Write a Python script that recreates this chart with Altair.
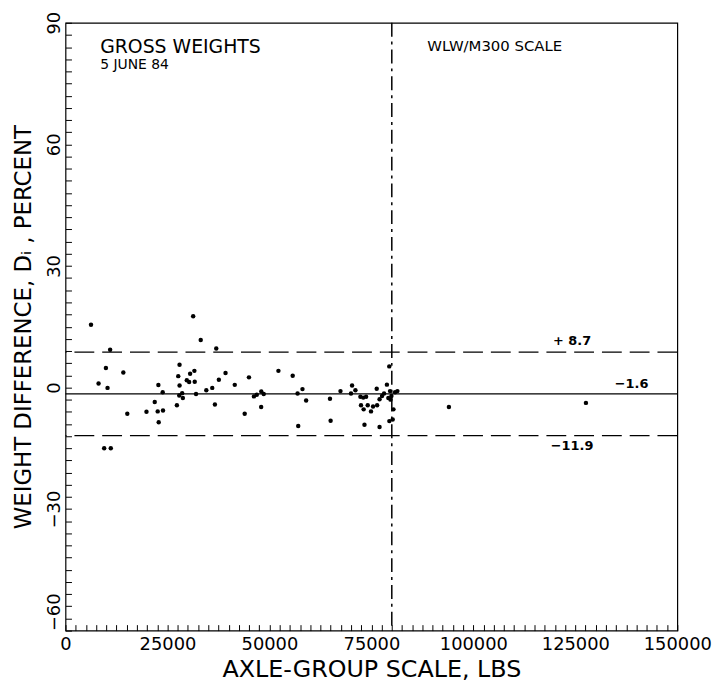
import altair as alt
import pandas as pd

# scale weight (lbs) and weight difference D_i (percent)
x_lbs = [6250, 8100, 9900, 10300, 10940, 9480, 11100, 14180, 15150, 19850,
         21880, 22770, 22600, 23900, 22850, 23830, 27310, 27640, 27960, 27960,
         27880, 28770, 28600, 29740, 30310, 30550, 31600, 31680, 31300, 33150,
         32000, 34520, 35980, 36630, 36960, 37600, 39230, 41500, 43930, 44980,
         46190, 46900, 48000, 48600, 47970, 52200, 55700, 57060, 56900, 58100,
         59000, 64840, 65000, 67420, 70260, 71080, 70000, 72300, 73000, 73700,
         72450, 73100, 73300, 74100, 74900, 75400, 76400, 76300, 77000, 77000,
         77600, 78100, 78800, 79380, 79570, 79900, 80400, 80220, 79400, 80800,
         81370, 79150, 79700, 94000, 127600]
d_pct = [15.5, 1.0, 4.8, -0.1, 9.3, -15.0, -15.0, 3.7, -6.5, -6.0,
         -3.6, 0.6, -5.9, -5.7, -8.6, -1.2, -4.4, 2.8, 5.6, 0.5,
         -2.0, -2.6, -1.4, 1.8, 1.35, 3.4, 4.1, 1.4, 17.6, 11.7,
         -1.6, -0.7, -0.1, -4.2, 9.6, 1.9, 3.55, 0.65, -6.5, 2.5,
         -2.2, -1.8, -1.0, -1.6, -4.8, 4.1, 2.9, -9.5, -1.5, -0.4,
         -3.2, -2.8, -8.2, -0.9, 0.5, -0.7, -1.5, -2.3, -2.5, -2.3,
         -4.4, -5.4, -9.2, -4.4, -5.9, -4.7, -4.4, -0.3, -9.75, -2.9,
         -2.1, -1.5, 0.7, 5.2, -0.9, -2.1, -5.4, -7.9, -8.3, -1.2,
         -0.9, -2.6, -3.0, -4.8, -3.8]

limit_values = [8.7, -11.9]
mean_value = [-1.6]
divider_lbs = [80000]

line_labels = ["+ 8.7", "\u22121.6", "\u221211.9"]
line_label_x = [124200, 138800, 124200]
line_label_y = [9.8, -0.9, -13.0]
line_label_baseline = ["bottom", "bottom", "top"]

note_text = ["GROSS WEIGHTS", "5 JUNE 84", "WLW/M300 SCALE"]
note_x = [8500, 8500, 88700]
note_y = [82.6, 78.6, 83.0]
note_size = [19, 14, 15]

x_ticks = list(range(0, 150001, 2500))
y_ticks = list(range(-60, 91, 3))

FONT = "DejaVu Sans"

x_scale = alt.Scale(domain=[0, 150000], nice=False, zero=False)
y_scale = alt.Scale(domain=[-60, 90], nice=False, zero=False)

x_axis = alt.Axis(
    title="AXLE-GROUP SCALE, LBS", values=x_ticks, domain=False,
    ticks=True, tickSize={"expr": "-6"}, tickColor="black", tickWidth=1,
    grid=False,
    labelExpr="datum.value % 25000 === 0 ? format(datum.value, 'd') : ''",
    labelOverlap=False, labelFlush=False, labelFont=FONT, labelFontSize=18,
    labelColor="black", labelPadding=11, titleFont=FONT, titleFontSize=24,
    titleFontWeight="normal", titleColor="black", titlePadding=4,
)
y_axis = alt.Axis(
    title="WEIGHT DIFFERENCE, D\u1d62 , PERCENT", values=y_ticks,
    domain=False, ticks=True, tickSize={"expr": "-6"}, tickColor="black",
    tickWidth=1, grid=False,
    labelExpr="datum.value % 30 === 0 ? format(datum.value, 'd') : ''",
    labelOverlap=False, labelFlush=False, labelAngle=270, labelBaseline="bottom",
    labelAlign={"condition": {"test": "datum.value === -60", "value": "left"},
                "value": "center"},
    labelFont=FONT, labelFontSize=18, labelColor="black", labelPadding=8,
    titleFont=FONT, titleFontSize=23, titleFontWeight="normal",
    titleColor="black", titlePadding=10,
)

X = lambda: alt.X("x:Q", scale=x_scale, axis=x_axis)
Y = lambda: alt.Y("y:Q", scale=y_scale, axis=y_axis)

pts = pd.DataFrame({"x": x_lbs, "y": d_pct})
points = alt.Chart(pts).mark_circle(size=20, color="black", opacity=1).encode(
    x=X(), y=Y()
)

limits = alt.Chart(pd.DataFrame({"y": limit_values})).mark_rule(
    color="black", strokeWidth=1.3, strokeDash=[20, 8]
).encode(y=Y())

mean = alt.Chart(pd.DataFrame({"y": mean_value})).mark_rule(
    color="black", strokeWidth=1.2
).encode(y=Y())

divider = alt.Chart(pd.DataFrame({"x": divider_lbs})).mark_rule(
    color="black", strokeWidth=1.5, strokeDash=[14, 5, 3, 5]
).encode(x=X())

lab_df = pd.DataFrame({"t": line_labels, "x": line_label_x, "y": line_label_y,
                       "b": line_label_baseline})
lab_bottom = alt.Chart(lab_df[lab_df.b == "bottom"]).mark_text(
    font=FONT, fontSize=13, fontWeight="bold", color="black",
    align="center", baseline="bottom"
).encode(x=X(), y=Y(), text="t:N")
lab_top = alt.Chart(lab_df[lab_df.b == "top"]).mark_text(
    font=FONT, fontSize=13, fontWeight="bold", color="black",
    align="center", baseline="top"
).encode(x=X(), y=Y(), text="t:N")

note_df = pd.DataFrame({"t": note_text, "x": note_x, "y": note_y, "s": note_size})
notes = alt.Chart(note_df).mark_text(
    font=FONT, color="black", align="left", baseline="alphabetic"
).encode(x=X(), y=Y(), text="t:N",
         size=alt.Size("s:Q", scale=None, legend=None))

chart = alt.layer(points, limits, mean, divider, lab_bottom, lab_top, notes).properties(
    width=617, height=613,
    autosize=alt.AutoSizeParams(type="none"),
    padding={"left": 58, "top": 12, "right": 36, "bottom": 58},
    background="white",
).configure_view(stroke="black", strokeWidth=1.2)

chart.save("out.html", embed_options={"renderer": "svg", "actions": False})
